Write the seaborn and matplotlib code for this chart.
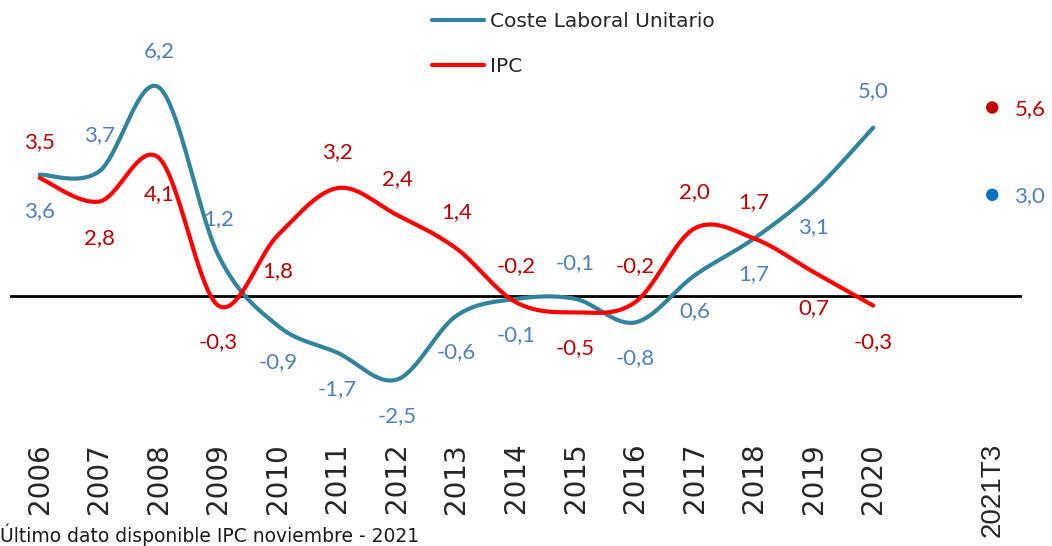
import numpy as np
import pandas as pd
import matplotlib.pyplot as plt
import seaborn as sns

# Data
years = ["2006", "2007", "2008", "2009", "2010", "2011", "2012", "2013",
         "2014", "2015", "2016", "2017", "2018", "2019", "2020"]
clu = [3.6, 3.7, 6.2, 1.2, -0.9, -1.7, -2.5, -0.6, -0.1, -0.1, -0.8, 0.6, 1.7, 3.1, 5.0]
ipc = [3.5, 2.8, 4.1, -0.3, 1.8, 3.2, 2.4, 1.4, -0.2, -0.5, -0.2, 2.0, 1.7, 0.7, -0.3]
last_label = "2021T3"
last_ipc = 5.6
last_clu = 3.0

# label placement: 1 = above the point, -1 = below
clu_side = [-1, 1, 1, 1, -1, -1, -1, -1, -1, 1, -1, -1, -1, -1, 1]
ipc_side = [1, -1, -1, -1, -1, 1, 1, 1, 1, -1, 1, 1, 1, -1, -1]

TEAL = "#31849B"
RED = "#FF0000"
DARKRED = "#C00000"
LBLUE = "#4F81BD"
DOTBLUE = "#0070C0"


def smooth(xs, ys, n=40):
    # Excel style smoothed line: cubic bezier with catmull-rom control points
    p = np.column_stack([xs, ys]).astype(float)
    p = np.vstack([p[0], p, p[-1]])
    out = []
    for i in range(1, len(p) - 2):
        p0, p1, p2, p3 = p[i - 1], p[i], p[i + 1], p[i + 2]
        c1 = p1 + (p2 - p0) / 6
        c2 = p2 - (p3 - p1) / 6
        t = np.linspace(0, 1, n)[:, None]
        seg = ((1 - t) ** 3) * p1 + 3 * ((1 - t) ** 2) * t * c1 + 3 * (1 - t) * t ** 2 * c2 + t ** 3 * p2
        out.append(seg if i == 1 else seg[1:])
    out = np.vstack(out)
    return out[:, 0], out[:, 1]


sns.set_style("white")
plt.rcParams["font.family"] = ["DejaVu Sans"]

fig = plt.figure(figsize=(10.52, 5.46), dpi=100)
ax = fig.add_axes([10 / 1052, 106 / 546, 1012 / 1052, 440 / 546])

xpos = np.arange(len(years))
sx, sy = smooth(xpos, clu)
df_clu = pd.DataFrame({"x": sx, "y": sy})
sx, sy = smooth(xpos, ipc)
df_ipc = pd.DataFrame({"x": sx, "y": sy})

sns.lineplot(data=df_clu, x="x", y="y", ax=ax, color=TEAL, lw=3,
             sort=False, estimator=None, label="Coste Laboral Unitario")
sns.lineplot(data=df_ipc, x="x", y="y", ax=ax, color=RED, lw=3,
             sort=False, estimator=None, label="IPC")

ax.axhline(0, color="black", lw=2, zorder=1)

# last quarter dots
xlast = len(years) + 1
sns.scatterplot(x=[xlast], y=[last_ipc], ax=ax, color=DARKRED, s=80, edgecolor="none", zorder=5)
sns.scatterplot(x=[xlast], y=[last_clu], ax=ax, color=DOTBLUE, s=80, edgecolor="none", zorder=5)

lab_font = dict(family="Lato", fontsize=16)
for i, v in enumerate(clu):
    ax.annotate(f"{v:.1f}".replace(".", ","), (i, v), xytext=(0, 26 * clu_side[i]),
                textcoords="offset points", ha="center", va="center", color=LBLUE, **lab_font)
for i, v in enumerate(ipc):
    ax.annotate(f"{v:.1f}".replace(".", ","), (i, v), xytext=(0, 26 * ipc_side[i]),
                textcoords="offset points", ha="center", va="center", color=DARKRED, **lab_font)
ax.annotate(f"{last_ipc:.1f}".replace(".", ","), (xlast, last_ipc), xytext=(16, -1),
            textcoords="offset points", ha="left", va="center", color=DARKRED, **lab_font)
ax.annotate(f"{last_clu:.1f}".replace(".", ","), (xlast, last_clu), xytext=(16, -1),
            textcoords="offset points", ha="left", va="center", color=LBLUE, **lab_font)

ax.set_xlim(-0.5, len(years) + 1.5)
ax.set_ylim(-4.3, 8.8)
ax.set_xticks(list(xpos) + [xlast])
ax.set_xticklabels(years + [last_label], rotation=90, fontsize=20, va="top", ha="center")
ax.get_xticklabels()[-1].set_family("Liberation Sans")
ax.tick_params(axis="x", length=0, pad=2)
ax.set_yticks([])
ax.set_xlabel("")
ax.set_ylabel("")
for s in ax.spines.values():
    s.set_visible(False)

ax.legend(loc="upper left", bbox_to_anchor=(432 / 1052, 1 - 12 / 546),
          bbox_transform=fig.transFigure, frameon=False, fontsize=14.5,
          handlelength=2.6, handletextpad=0.3, labelspacing=1.3,
          borderpad=0, borderaxespad=0)

fig.text(0.0, 0.0, "Último dato disponible IPC noviembre - 2021",
         fontsize=13.5, ha="left", va="bottom", color="#1a1a1a")

plt.savefig("out.png", dpi=100)
